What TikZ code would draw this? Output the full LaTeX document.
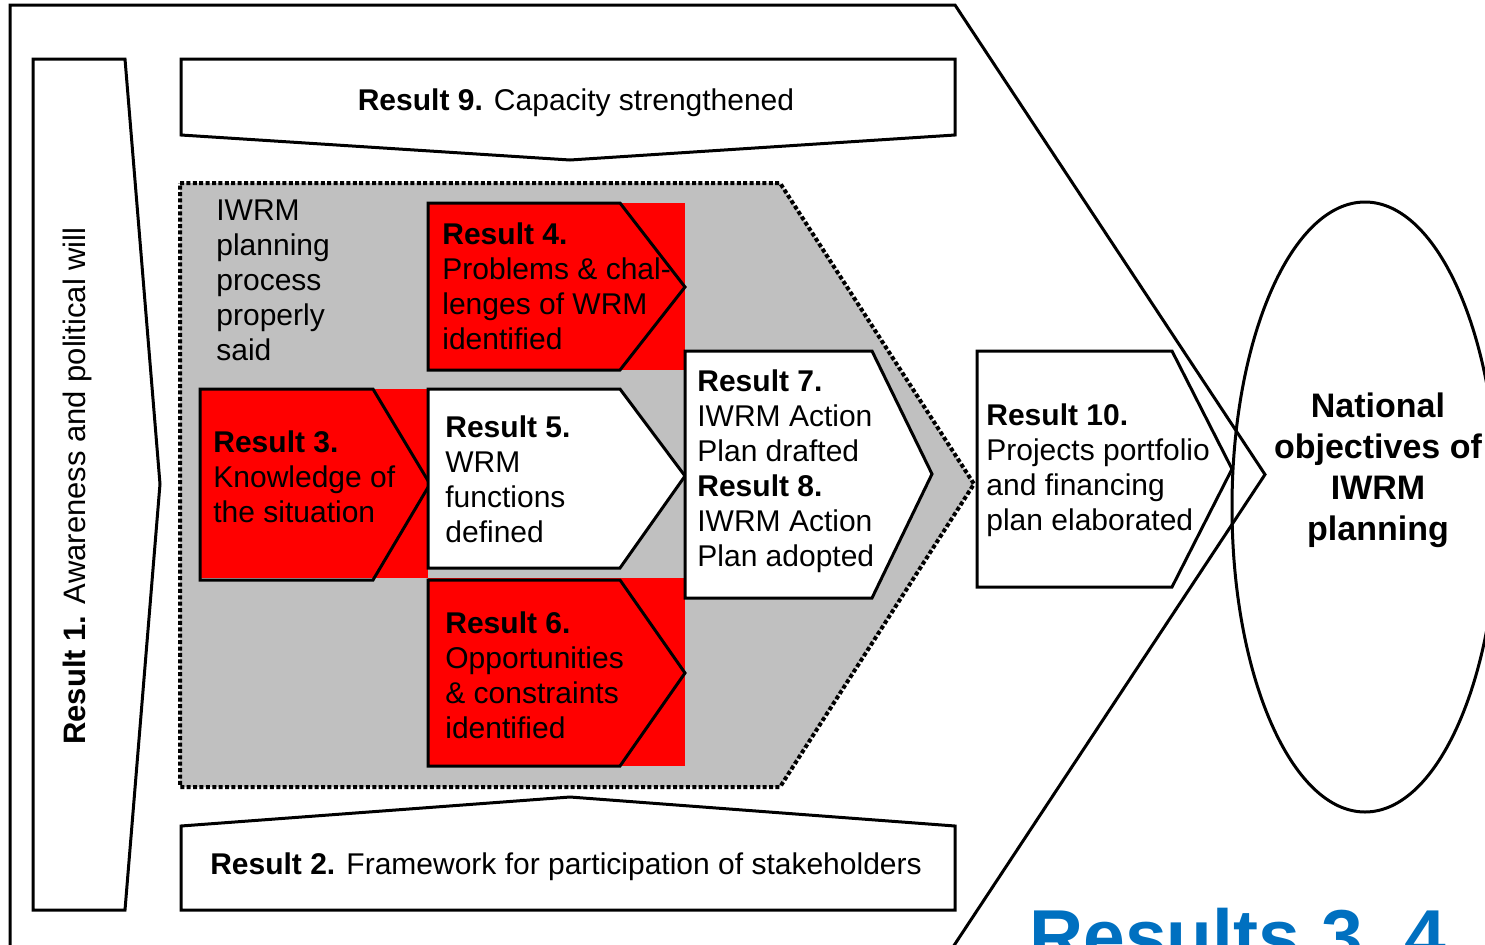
\documentclass[tikz,border=0pt]{standalone}
\usepackage{fontspec}
\setmainfont{Liberation Sans}
\definecolor{panelgrey}{RGB}{192,192,192}
\definecolor{titleblue}{RGB}{0,112,192}
\begin{document}
\begin{tikzpicture}[x=0.5pt,y=-0.5pt,
  outline/.style={draw=black,line width=1.5pt,line join=miter},
  whitebox/.style={outline,fill=white},
  redfill/.style={fill=red},
  greypanel/.style={fill=panelgrey,draw=black,line width=2pt,dash pattern=on 2pt off 1.2pt},
  body/.style={font=\fontsize{15}{17.5}\selectfont,inner sep=0pt,align=left,anchor=west},
  goal/.style={font=\fontsize{17}{20.5}\selectfont\bfseries,inner sep=0pt,align=center},
]
\useasboundingbox (0,0) rectangle (1485,944);
\clip (0,0) rectangle (1485,944);

% outer frame arrow
\draw[outline] (10,970) -- (10,5) -- (955,5) -- (1265,474.5) -- (937.8,970);

% Result 1, Result 9 and Result 2 arrows
\draw[whitebox] (33,59) -- (125,59) -- (160,484) -- (125,910) -- (33,910) -- cycle;
\draw[whitebox] (181,59) -- (955,59) -- (955,135) -- (570,160) -- (181,135) -- cycle;
\draw[whitebox] (181,826) -- (570,797) -- (955,826) -- (955,910) -- (181,910) -- cycle;

% grey planning panel
\draw[greypanel] (180,183) -- (780,183) -- (974,484) -- (780,787) -- (180,787) -- cycle;

% red backgrounds
\fill[redfill] (428,203) rectangle (685,370);
\fill[redfill] (200,389) rectangle (428,578);
\fill[redfill] (428,578) rectangle (685,766);

% chevrons
\draw[outline] (428,203) -- (620,203) -- (685,287) -- (620,370) -- (428,370) -- cycle;
\draw[outline] (200,389) -- (373,389) -- (430,484) -- (373,580) -- (200,580) -- cycle;
\draw[whitebox] (428,389) -- (620,389) -- (685,476) -- (620,568) -- (428,568) -- cycle;
\draw[outline] (428,580) -- (620,580) -- (685,673) -- (620,766) -- (428,766) -- cycle;
\draw[whitebox] (685,351) -- (872,351) -- (932,474) -- (872,598) -- (685,598) -- cycle;
\draw[whitebox] (977,351) -- (1172,351) -- (1232,469) -- (1172,587) -- (977,587) -- cycle;

% national objectives
\draw[outline] (1365,507) ellipse [x radius=133, y radius=305];

% texts
\node[rotate=90,font=\fontsize{15.5}{17.5}\selectfont,inner sep=0pt] (t1) at (77,486) {\textbf{Result 1.} Awareness and political will};
\node[body,anchor=center] (t9) at (576,103) {\textbf{Result 9.} Capacity strengthened};
\node[body,anchor=center] (t2) at (566,867) {\textbf{Result 2.} Framework for participation of stakeholders};
\node[body] (tp) at (216,280) {IWRM\\planning\\process\\properly\\said};
\node[body] (t4) at (442,286) {\textbf{Result 4.}\\Problems \& chal-\\lenges of WRM\\identified};
\node[body] (t3) at (213,477) {\textbf{Result 3.}\\Knowledge of\\the situation};
\node[body] (t5) at (445,479) {\textbf{Result 5.}\\WRM\\functions\\defined};
\node[body] (t6) at (445,675) {\textbf{Result 6.}\\Opportunities\\\& constraints\\identified};
\node[body] (t7) at (697,471) {\textbf{Result 7.}\\IWRM Action\\Plan drafted\\\textbf{Result 8.}\\IWRM Action\\Plan adopted};
\node[body] (t10) at (986,470) {\textbf{Result 10.}\\Projects portfolio\\and financing\\plan elaborated};
\node[goal] (tn) at (1378,470) {National\\objectives of\\IWRM\\planning};
\node[font=\fontsize{37.5}{40}\selectfont\bfseries,text=titleblue,anchor=base west,inner sep=0pt] (t34) at (1029,962) {Results 3, 4};
\end{tikzpicture}
\end{document}
